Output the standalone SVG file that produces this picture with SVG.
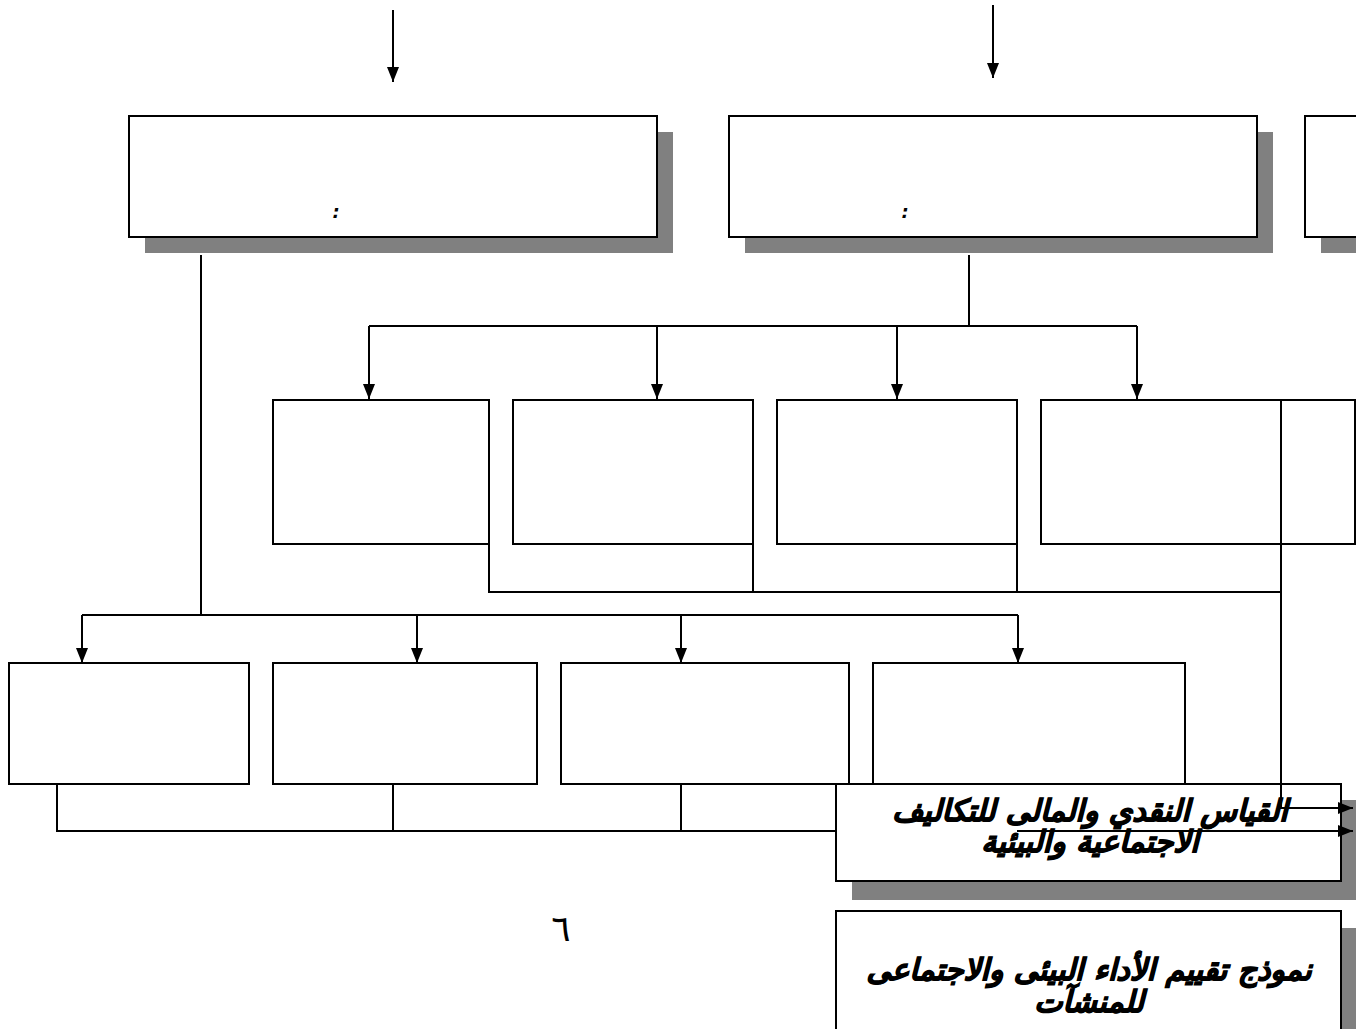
<svg xmlns="http://www.w3.org/2000/svg" width="1356" height="1029" viewBox="0 0 1356 1029">
<style>
.box{fill:#fff;stroke:#000;stroke-width:2}
.sh{fill:#808080}
.ln{fill:none;stroke:#000;stroke-width:2}
.t{font-family:"DejaVu Sans",sans-serif;font-weight:bold;font-style:italic;font-size:30px;text-anchor:middle;fill:#000;stroke:#000;stroke-width:1.1}
.c{font-family:"DejaVu Sans",sans-serif;font-weight:bold;font-style:italic;font-size:18px;text-anchor:middle;fill:#000}
.pn{font-family:"DejaVu Sans",sans-serif;font-size:36px;text-anchor:middle;fill:#000}
</style>
<defs>
<marker id="ah" markerWidth="15" markerHeight="12" refX="15" refY="6" orient="auto" markerUnits="userSpaceOnUse" viewBox="0 0 15 12">
<path d="M0,0 L15,6 L0,12 Z" fill="#000"/>
</marker>
</defs>
<rect width="1356" height="1029" fill="#fff"/>

<g id="top-boxes">
<g id="box-top-left">
<rect class="sh" x="145" y="132" width="528" height="121"/>
<rect class="box" x="129" y="116" width="528" height="121"/>
<text class="c" x="336" y="218">:</text>
</g>
<g id="box-top-mid">
<rect class="sh" x="745" y="132" width="528" height="121"/>
<rect class="box" x="729" y="116" width="528" height="121"/>
<text class="c" x="905" y="218">:</text>
</g>
<g id="box-top-right">
<rect class="sh" x="1321" y="132" width="60" height="121"/>
<rect class="box" x="1305" y="116" width="80" height="121"/>
</g>
</g>

<g id="connectors">
<line class="ln" x1="393" y1="10" x2="393" y2="82" marker-end="url(#ah)"/>
<line class="ln" x1="993" y1="5" x2="993" y2="78" marker-end="url(#ah)"/>
<line class="ln" x1="969" y1="255" x2="969" y2="326"/>
<line class="ln" x1="369" y1="326" x2="1137" y2="326"/>
<line class="ln" x1="369" y1="326" x2="369" y2="399" marker-end="url(#ah)"/>
<line class="ln" x1="657" y1="326" x2="657" y2="399" marker-end="url(#ah)"/>
<line class="ln" x1="897" y1="326" x2="897" y2="399" marker-end="url(#ah)"/>
<line class="ln" x1="1137" y1="326" x2="1137" y2="399" marker-end="url(#ah)"/>
<line class="ln" x1="201" y1="255" x2="201" y2="615"/>
<line class="ln" x1="82" y1="615" x2="1018" y2="615"/>
<line class="ln" x1="82" y1="615" x2="82" y2="663" marker-end="url(#ah)"/>
<line class="ln" x1="417" y1="615" x2="417" y2="663" marker-end="url(#ah)"/>
<line class="ln" x1="681" y1="615" x2="681" y2="663" marker-end="url(#ah)"/>
<line class="ln" x1="1018" y1="615" x2="1018" y2="663" marker-end="url(#ah)"/>
<polyline class="ln" points="489,544 489,592 1281,592"/>
<line class="ln" x1="753" y1="544" x2="753" y2="592"/>
<line class="ln" x1="1017" y1="544" x2="1017" y2="592"/>
<polyline class="ln" points="57,784 57,831 840,831"/>
<line class="ln" x1="393" y1="784" x2="393" y2="831"/>
<line class="ln" x1="681" y1="784" x2="681" y2="831"/>
</g>

<g id="middle-row">
<rect id="m1" class="box" x="273" y="400" width="216" height="144"/>
<rect id="m2" class="box" x="513" y="400" width="240" height="144"/>
<rect id="m3" class="box" x="777" y="400" width="240" height="144"/>
<rect id="m4" class="box" x="1041" y="400" width="314" height="144"/>
</g>

<g id="bottom-row">
<rect id="b1" class="box" x="9" y="663" width="240" height="121"/>
<rect id="b2" class="box" x="273" y="663" width="264" height="121"/>
<rect id="b3" class="box" x="561" y="663" width="288" height="121"/>
<rect id="b4" class="box" x="873" y="663" width="312" height="121"/>
</g>

<g id="box-measure">
<rect class="sh" x="852" y="800" width="510" height="100"/>
<rect class="box" x="836" y="784" width="505" height="97"/>
<text class="t" x="1090" y="821">القياس النقدي والمالى للتكاليف</text>
<text class="t" x="1090" y="852">الاجتماعية والبيئية</text>
</g>

<g id="connectors-top">
<polyline class="ln" points="1281,400 1281,808 1353,808" marker-end="url(#ah)"/>
<line class="ln" x1="1017" y1="831" x2="1353" y2="831" marker-end="url(#ah)"/>
</g>

<g id="box-model">
<rect class="sh" x="852" y="928" width="510" height="120"/>
<rect class="box" x="836" y="911" width="505" height="130"/>
<text class="t" x="1089" y="980">نموذج تقييم الأداء البيئى والاجتماعى</text>
<text class="t" x="1089" y="1012">للمنشآت</text>
</g>

<text class="pn" x="561" y="941">٦</text>
</svg>
